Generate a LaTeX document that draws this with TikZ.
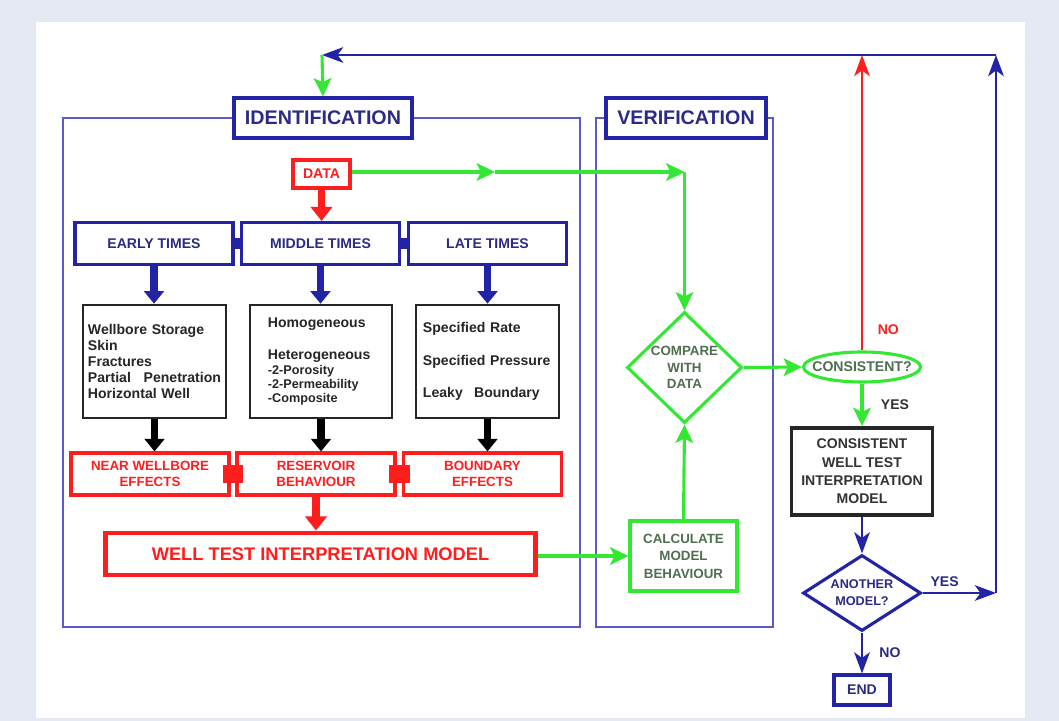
\documentclass[tikz,border=0pt]{standalone}
\usepackage{fontspec}
\setmainfont{Liberation Sans}
\usetikzlibrary{positioning, arrows.meta, shapes.geometric}

\definecolor{wblue}{HTML}{2323A5}
\definecolor{wpanel}{HTML}{5A5ACD}
\definecolor{wred}{HTML}{FF1E1E}
\definecolor{wgreen}{HTML}{33E833}
\definecolor{wgtext}{HTML}{4F6F4F}
\definecolor{wbtext}{HTML}{2B2B85}
\definecolor{wpage}{HTML}{E5E9F3}

\begin{document}
\begin{tikzpicture}[
    x=0.025cm, y=-0.025cm,
    title/.style={draw=wblue, fill=white, line width=2.2pt, minimum height=1cm, text=wbtext, font=\fontsize{14}{16}\selectfont\bfseries},
    timebox/.style={draw=wblue, line width=2.2pt, minimum width=3.95cm, minimum height=1.05cm, text=wbtext, font=\fontsize{10}{12}\selectfont\bfseries},
    listbox/.style={draw=black!85, line width=1.8pt, minimum height=2.825cm, align=left, text=black!85, font=\fontsize{10}{11.5}\selectfont\bfseries},
    effbox/.style={draw=wred, line width=2.2pt, minimum width=3.95cm, minimum height=1.05cm, align=center, text=wred, font=\fontsize{9.5}{11}\selectfont\bfseries},
    gbox/.style={draw=wgreen, line width=2.2pt, align=center, text=wgtext, font=\fontsize{9.5}{12.5}\selectfont\bfseries},
    bbox/.style={draw=wblue, line width=2.2pt, align=center, text=wbtext, font=\fontsize{9}{12}\selectfont\bfseries},
    panel/.style={draw=wpanel, line width=1.4pt},
    lbl/.style={font=\fontsize{10}{12}\selectfont\bfseries},
    barr/.style={-{Triangle[length=9pt, width=14pt]}, line width=5.5pt, wblue},
    karr/.style={-{Triangle[length=9pt, width=14pt]}, line width=5.5pt, black},
    rarr/.style={-{Triangle[length=10pt, width=15pt]}, line width=5.5pt, wred},
    garr/.style={-{Stealth[length=13pt, width=12.5pt, inset=3pt]}, line width=2.2pt, wgreen},
    bthin/.style={-{Stealth[length=15pt, width=11pt, inset=4pt]}, line width=2.1pt, wblue},
    rthin/.style={-{Stealth[length=15pt, width=11pt, inset=4pt]}, line width=1.8pt, wred},
]

% Page and panels
\useasboundingbox (0,0) rectangle (1059,721);
\fill[wpage] (0,0) rectangle (1059,721);
\fill[white] (36,22) rectangle (1025,718);
\draw[panel] (63,118) rectangle (580,627);
\draw[panel] (596,118) rectangle (773,627);

% Titles
\node[title, minimum width=4.45cm] (ident) at (323,118) {IDENTIFICATION};
\node[title, minimum width=4.0cm] (verif) at (686,118) {VERIFICATION};

% Identification side
\node[draw=wred, line width=2.2pt, minimum width=1.425cm, minimum height=0.7cm, text=wred, font=\fontsize{10}{12}\selectfont\bfseries] (data) at (321.5,174) {DATA};

\node[timebox] (early) at (154,243.5) {EARLY TIMES};
\node[timebox] (middle) at (320.5,243.5) {MIDDLE TIMES};
\node[timebox] (late) at (487.5,243.5) {LATE TIMES};

\node[listbox, text width=3.325cm, inner xsep=0.125cm] (g1) at (154.5,361.5)
    {Wellbore Storage\\Skin\\Fractures\\Partial\hfill Penetration\\Horizontal Well};
\node[listbox, text width=2.65cm, inner xsep=0.45cm] (g2) at (321,361.5)
    {Homogeneous\\[11.5pt]Heterogeneous\\[-1pt]{\fontsize{9}{10}\selectfont -2-Porosity}\\[-1.5pt]{\fontsize{9}{10}\selectfont -2-Permeability}\\[-1.5pt]{\fontsize{9}{10}\selectfont -Composite}};
\node[listbox, text width=3.225cm, inner xsep=0.175cm] (g3) at (487.5,361.5)
    {Specified Rate\\[11.5pt]Specified Pressure\\[11.5pt]Leaky\hspace{8pt}Boundary};

\node[effbox] (near) at (150,474) {NEAR WELLBORE\\EFFECTS};
\node[effbox] (resv) at (316,474) {RESERVOIR\\BEHAVIOUR};
\node[effbox] (bound) at (482.5,474) {BOUNDARY\\EFFECTS};

\node[draw=wred, line width=3.5pt, minimum width=10.725cm, minimum height=1.05cm, text=wred, font=\fontsize{13}{15}\selectfont\bfseries] (wtim) at (320.5,554) {WELL TEST INTERPRETATION MODEL};

% Verification side
\node[gbox, minimum width=2.675cm, minimum height=1.75cm] (calc) at (683.5,556) {CALCULATE\\MODEL\\BEHAVIOUR};
\node[gbox, diamond, aspect=1, inner sep=-2pt, minimum width=2.875cm, minimum height=2.775cm, font=\fontsize{9.5}{11.5}\selectfont\bfseries] (compare) at (684.5,367.5) {COMPARE\\WITH\\DATA};

% Decision column
\node[gbox, ellipse, inner xsep=-6pt, inner ysep=0pt, minimum width=2.925cm, minimum height=0.75cm, font=\fontsize{10}{12}\selectfont\bfseries] (consistent) at (862,367) {CONSISTENT?};
\node[draw=black!85, line width=2.8pt, minimum width=3.525cm, minimum height=2.175cm, align=center, text=black!80, font=\fontsize{10}{13}\selectfont\bfseries] (cwti) at (862,471.5) {CONSISTENT\\WELL TEST\\INTERPRETATION\\MODEL};
\node[bbox, diamond, aspect=1.55, inner sep=0pt, minimum width=2.95cm, minimum height=1.9cm] (another) at (862,593) {ANOTHER\\MODEL?};
\node[bbox, minimum width=1.4cm, minimum height=0.75cm, font=\fontsize{10}{12}\selectfont\bfseries] (stop) at (862,690) {END};

% Free ends of the loop
\coordinate (tl) at (322,55);
\coordinate (tr) at (996,55);
\coordinate (yr) at (996,593);
\coordinate (rtop) at (862,55);
\coordinate (gm) at (495,172);
\coordinate (gc) at (684.5,172);

% Arrows
\draw[rarr] (data.south) -- (data.south |- middle.north);
\draw[line width=8.5pt, wblue] (early.east) -- (middle.west);
\draw[line width=8.5pt, wblue] (middle.east) -- (late.west);
\foreach \a/\b in {early/g1, middle/g2, late/g3}
    \draw[barr] (\a.south) -- (\a.south |- \b.north);
\foreach \a/\b in {g1/near, g2/resv, g3/bound}
    \draw[karr] (\a.south) -- (\a.south |- \b.north);
\draw[line width=12.8pt, wred, shorten <=-5.6pt, shorten >=-5.6pt] (near.east) -- (resv.west);
\draw[line width=12.8pt, wred, shorten <=-5.6pt, shorten >=-5.6pt] (resv.east) -- (bound.west);
\draw[rarr] (resv.south) -- (resv.south |- wtim.north);

\draw[garr] (data.east |- gm) -- (gm);
\draw[garr] (gm) -- (gc);
\draw[garr] (gc) -- (compare.north);
\draw[garr] (wtim.east |- calc.west) -- (calc.west);
\draw[garr] (calc.north) -- (compare.south);
\draw[garr] (compare.east) -- (consistent.west);
\draw[garr] (consistent.south) -- node[right=9pt, lbl, text=black!80] {YES} (cwti.north);
\draw[rthin] (consistent.north) -- node[pos=0.07, right=7pt, lbl, text=wred] {NO} (rtop);

\draw[bthin] (cwti.south) -- (another.north);
\draw[bthin] (another.east) -- node[pos=0.3, above, lbl, text=wbtext] {YES} (yr);
\draw[bthin] (yr) -- (tr);
\draw[bthin] (tr) -- (tl);
\draw[garr] (tl) -- (ident.north);
\draw[bthin] (another.south) -- node[right=8pt, lbl, text=wbtext] {NO} (stop.north);

\end{tikzpicture}
\end{document}
